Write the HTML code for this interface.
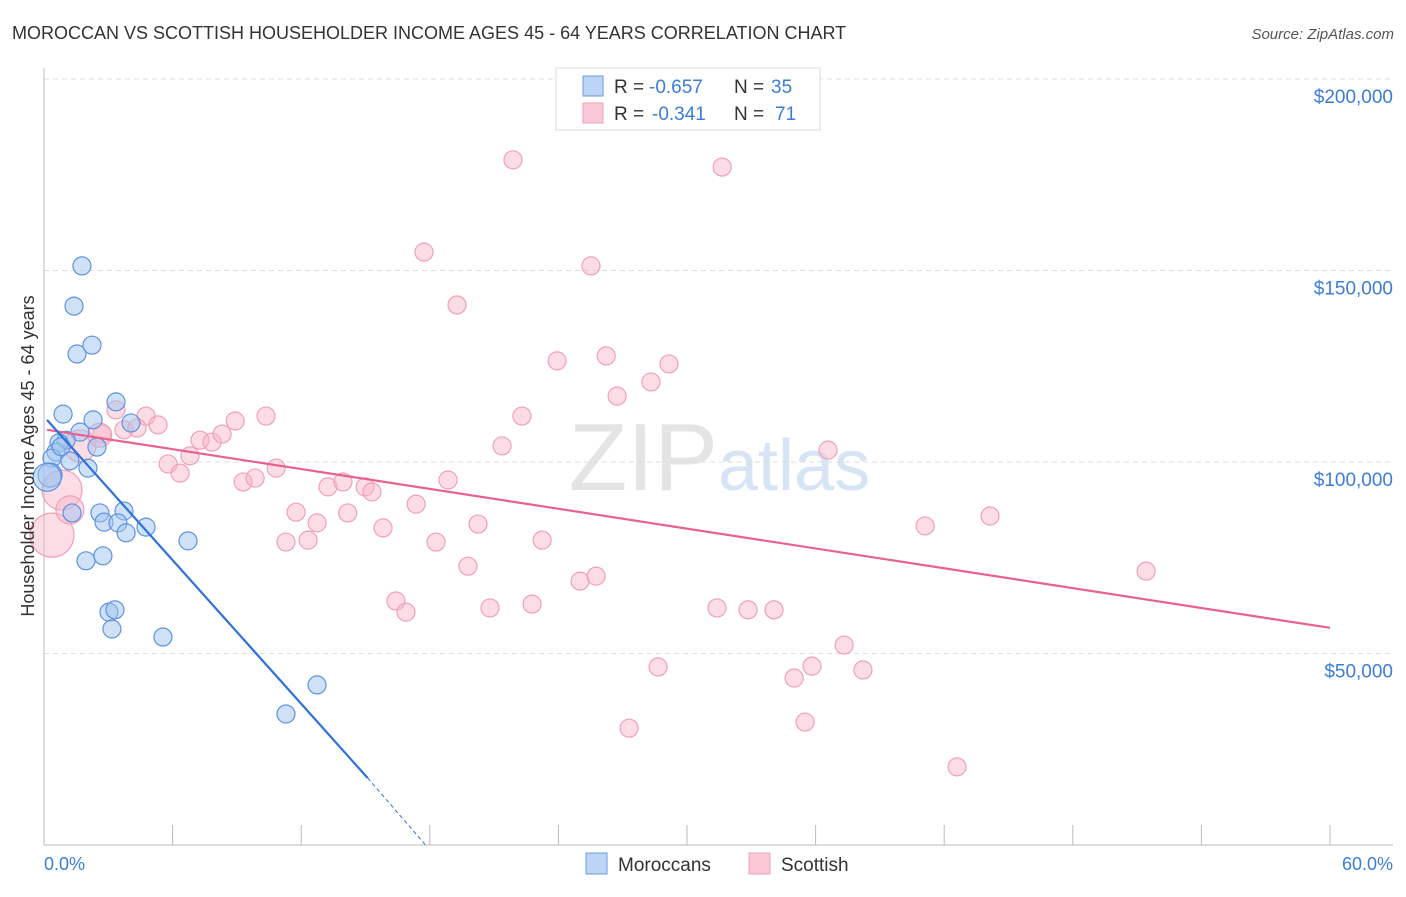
<!DOCTYPE html>
<html><head><meta charset="utf-8"><style>
body{margin:0;background:#fff;font-family:"Liberation Sans",sans-serif}
svg text{font-family:"Liberation Sans",sans-serif}
</style></head><body>
<svg width="1406" height="892" viewBox="0 0 1406 892" xmlns="http://www.w3.org/2000/svg">
<text x="12" y="39" font-size="18" fill="#333">MOROCCAN VS SCOTTISH HOUSEHOLDER INCOME AGES 45 - 64 YEARS CORRELATION CHART</text>
<text x="1394" y="39" font-size="15" fill="#555" text-anchor="end" font-style="italic">Source: ZipAtlas.com</text>
<text x="718" y="490" font-size="96" fill="#e4e4e4" text-anchor="end" font-family="Liberation Serif">ZIP</text>
<text x="718" y="490" font-size="72" fill="#d6e4f5">atlas</text>
<g id="grid"></g>
<g id="axes"></g>
<g id="marks"></g>
<text transform="translate(34,456) rotate(-90)" font-size="18" fill="#333" text-anchor="middle">Householder Income Ages 45 - 64 years</text>
<text x="44" y="870" font-size="18" fill="#3b7dd8">0.0%</text>
<text x="1393" y="870" font-size="18" fill="#3b7dd8" text-anchor="end">60.0%</text>
<g>
<rect x="556" y="68" width="264" height="62" fill="#fff" stroke="#ddd"/>
<rect x="583" y="76" width="20" height="20" fill="#bcd5f5" stroke="#6a9be0"/>
<rect x="583" y="103" width="20" height="20" fill="#fac8d6" stroke="#f0a0b8"/>
<text x="614" y="93" font-size="19" fill="#333">R =</text>
<text x="649" y="93" font-size="19" fill="#3b7dd8">-0.657</text>
<text x="734" y="93" font-size="19" fill="#333">N =</text>
<text x="771" y="93" font-size="19" fill="#3b7dd8">35</text>
<text x="614" y="120" font-size="19" fill="#333">R =</text>
<text x="652" y="120" font-size="19" fill="#3b7dd8">-0.341</text>
<text x="734" y="120" font-size="19" fill="#333">N =</text>
<text x="775" y="120" font-size="19" fill="#3b7dd8">71</text>
</g>
<g>
<rect x="586" y="853" width="21" height="21" fill="#bcd5f5" stroke="#6a9be0"/>
<text x="618" y="871" font-size="19" fill="#333">Moroccans</text>
<rect x="749" y="853" width="21" height="21" fill="#fac8d6" stroke="#f0a0b8"/>
<text x="781" y="871" font-size="19" fill="#333">Scottish</text>
</g>
</svg>
<script>
const yTicks=[50000,100000,150000,200000];
const yTickLabels=["$50,000","$100,000","$150,000","$200,000"];
const xTicks=[0,6,12,18,24,30,36,42,48,54,60];
const moroccanX=[1.77,1.40,1.54,2.24,0.89,2.29,3.36,4.06,1.68,1.03,0.70,2.47,0.56,0.37,1.21,2.05,0.28,1.31,2.61,3.73,2.80,3.45,3.83,4.76,6.72,1.96,2.75,3.03,3.31,3.17,5.55,12.74,11.29,0.15,0.8];
const moroccanY=[151.2,140.7,128.2,130.5,112.5,111.0,115.7,110.2,107.8,105.7,105.0,103.9,102.6,101.0,100.3,98.4,96.6,86.7,86.7,87.2,84.3,84.1,81.5,83.0,79.4,74.2,75.5,60.8,61.4,56.4,54.3,41.8,34.2,96,104];
const scottishX=[21.88,31.64,17.73,25.52,19.27,23.94,26.23,29.16,28.32,26.74,22.30,21.37,36.58,3.36,4.76,5.32,3.73,4.34,2.71,7.28,7.84,8.31,8.92,10.36,6.81,5.79,6.35,10.83,9.29,9.85,13.25,13.95,14.98,15.30,18.85,11.76,12.74,14.17,15.82,17.36,20.25,11.29,12.32,18.29,23.24,19.78,25.01,25.76,16.42,16.89,20.81,22.77,31.40,32.85,34.06,41.11,44.14,51.42,37.33,35.83,35.0,28.65,38.21,27.30,35.51,42.60,0.84,0.37,1.21,1.68,2.6];
const scottishY=[178.9,177.0,154.8,151.2,141.0,126.4,127.7,125.6,120.9,117.2,112.0,104.2,103.1,113.6,112.0,109.7,108.4,108.9,107.3,105.7,105.2,107.3,110.7,112.0,101.6,99.5,97.1,98.4,94.8,95.8,93.5,94.8,93.5,92.2,95.3,86.9,84.1,86.7,82.8,89.0,83.8,79.1,79.6,79.1,79.6,72.8,68.9,70.2,63.7,60.8,61.9,62.9,61.9,61.4,61.4,83.3,85.9,71.5,52.2,46.7,43.6,46.5,45.7,30.5,32.1,20.4,92.7,80.9,87.5,104.2,107];
const scottishR=[9,9,9,9,9,9,9,9,9,9,9,9,9,9,9,9,9,9,9,9,9,9,9,9,9,9,9,9,9,9,9,9,9,9,9,9,9,9,9,9,9,9,9,9,9,9,9,9,9,9,9,9,9,9,9,9,9,9,9,9,9,9,9,9,9,9,20,22,14,16,12];
const moroccanR=[9,9,9,9,9,9,9,9,9,9,9,9,9,9,9,9,12,9,9,9,9,9,9,9,9,9,9,9,9,9,9,9,9,14,9];
const moroccanTrend=[[0.14,111],[15.1,17.5]], moroccanDash=[[15.1,17.5],[17.8,0]];
const scottishTrend=[[0.14,108.4],[60,56.7]];
const NS="http://www.w3.org/2000/svg";
const X=p=>44+p/60*1286, Y=v=>845-v/50000*191.5, Yk=k=>Y(k*1000);
function mk(t,a,parent){const e=document.createElementNS(NS,t);for(const k in a)e.setAttribute(k,a[k]);document.getElementById(parent).appendChild(e);return e;}
yTicks.forEach((v,i)=>{
 const l=mk('line',{x1:44,x2:1393,y1:Y(v),y2:Y(v),stroke:'#ddd','stroke-dasharray':'5,4'},'grid');
 
 
 const t=mk('text',{x:1393,y:Y(v)+24,'font-size':19,fill:'#3b7dd8','text-anchor':'end'},'grid');
 t.textContent=yTickLabels[i];
 
 
});
const ax=mk('line',{x1:44,x2:44,y1:68,y2:845,stroke:'#bbb'},'axes');


const bx=mk('line',{x1:44,x2:1393,y1:845,y2:845,stroke:'#bbb'},'axes');


xTicks.forEach(q=>{
 const tk=mk('line',{x1:X(q),x2:X(q),y1:825,y2:845,stroke:'#bbb'},'axes');
 
 
});
function dots(xs,ys,rs,fill,stroke,name){xs.forEach((x,i)=>{
 const c=mk('circle',{cx:X(x),cy:Yk(ys[i]),r:rs[i],fill:fill,stroke:stroke,'stroke-width':1.2},'marks');
 
 
});}
dots(scottishX,scottishY,scottishR,'rgba(248,180,200,0.45)','#f0a0b8','scottish-point');
dots(moroccanX,moroccanY,moroccanR,'rgba(160,195,240,0.5)','#5f93de','moroccan-point');
function line(pts,color,name,dash){const l=mk('line',{x1:X(pts[0][0]),y1:Yk(pts[0][1]),x2:X(pts[1][0]),y2:Yk(pts[1][1]),stroke:color,'stroke-width':dash?1:2.2,'stroke-dasharray':dash||'none'},'marks');
 
 }
line(scottishTrend,'#e8628e','scottish-trendline');
line(moroccanTrend,'#2f72d8','moroccan-trendline');
line(moroccanDash,'#2f72d8','moroccan-trendline-extension','4,3');
</script>
</body></html>
